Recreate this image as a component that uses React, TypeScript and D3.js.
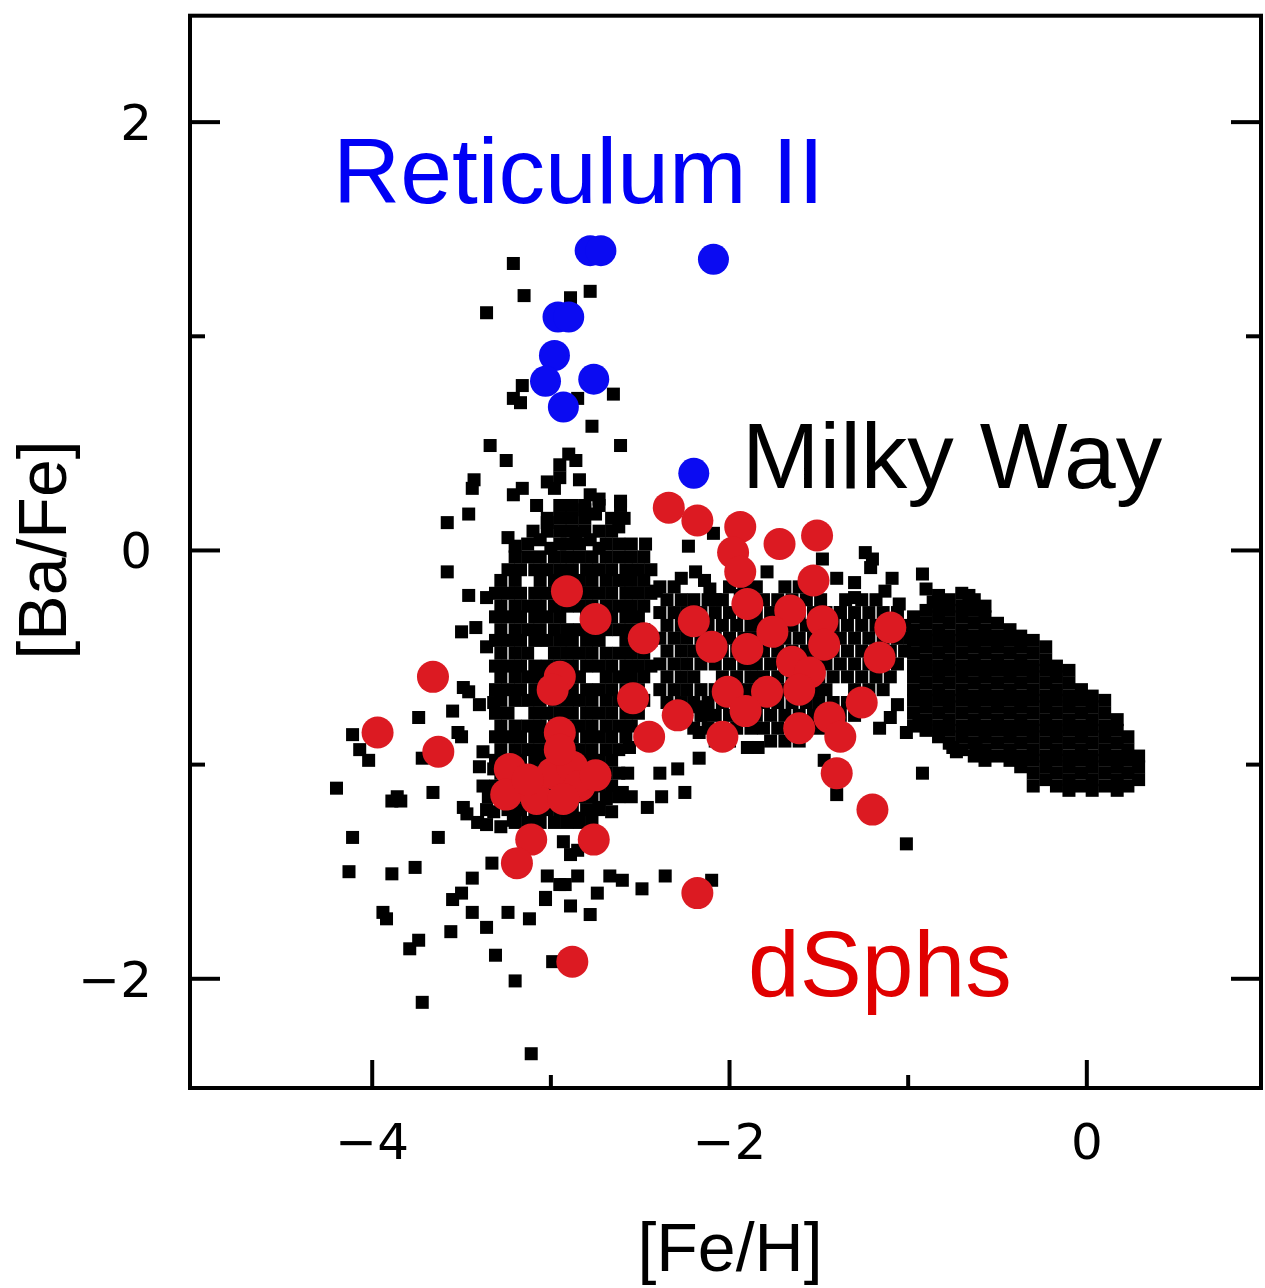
import React from 'react';
import * as d3 from 'd3';

const W = 1265;
const H = 1288;

const xDomain: [number, number] = [-5.02, 0.975];
const yDomain: [number, number] = [-2.51, 2.497];
const xTicksMajor = [-4, -2, 0];
const xTicksMinor = [-3, -1];
const yTicksMajor = [-2, 0, 2];
const yTicksMinor = [-1, 1];
const xTickLabels = ['\u22124', '\u22122', '0'];
const yTickLabels = ['\u22122', '0', '2'];

// Milky Way stars: scattered ones
const mwSparse: [number, number][] = [
  [-3.21,1.34],[-3.15,1.19],[-3.36,1.11],[-2.89,1.18],[-2.78,1.21],
  [-3.16,0.77],[-3.21,0.71],[-3.17,0.69],[-2.85,0.71],[-2.65,0.73],
  [-2.77,0.58],[-3.34,0.49],[-2.61,0.49],[-3.25,0.42],[-2.95,0.40],[-2.90,0.45],[-2.86,0.42],
  [-3.43,0.33],[-3.44,0.29],[-3.02,0.32],[-2.98,0.29],[-3.16,0.29],[-3.21,0.26],[-2.95,0.34],[-2.84,0.33],[-2.78,0.26],
  [-3.46,0.17],[-3.58,0.13],[-2.73,0.24],[-2.81,0.19],[-2.75,0.17],[-2.61,0.23],[-2.59,0.15],[-2.62,0.11],[-3.02,0.13],
  [-3.24,0.06],[-3.20,0.02],[-3.06,0.05],[-3.00,0.01],[-2.95,0.03],[-2.86,0.08],[-2.78,0.05],[-2.73,0.01],
  [-2.23,0.02],[-2.09,0.08],[-2.19,-0.10],[-2.14,-0.14],[-2.27,-0.13],[-2.41,-0.19],[-2.11,-0.18],[-2.08,-0.23],[-1.79,-0.10],[-1.94,-0.21],
  [-1.48,-0.04],[-1.24,-0.01],[-1.20,-0.04],[-1.21,-0.08],[-1.40,-0.13],[-1.30,-0.15],[-1.09,-0.13],[-0.92,-0.11],[-1.13,-0.19],
  [-1.05,-0.25],[-0.90,-0.18],[-0.83,-0.21],[-0.86,-0.24],[-0.66,-0.21],[-1.35,-0.23],[-1.30,-0.22],[-1.49,-0.23],[-1.38,-0.29],
  [-3.58,-0.10],[-3.46,-0.21],[-3.36,-0.22],[-3.50,-0.38],[-3.42,-0.36],[-3.36,-0.45],[-3.49,-0.64],[-3.46,-0.66],[-3.40,-0.72],
  [-3.32,-0.71],[-3.38,-0.94],[-3.40,-1.01],[-3.32,-1.02],
  [-4.11,-0.86],[-4.07,-0.93],[-4.02,-0.98],[-3.74,-0.78],[-3.55,-0.75],[-3.52,-0.85],[-3.50,-0.87],[-3.72,-0.97],[-3.66,-1.13],[-3.86,-1.15],
  [-4.20,-1.11],[-3.84,-1.17],[-3.89,-1.17],[-3.49,-1.20],[-3.47,-1.23],[-3.36,-1.21],[-3.32,-1.22],[-3.41,-1.27],[-3.36,-1.28],[-3.28,-1.29],[-3.21,-1.26],
  [-4.11,-1.34],[-3.63,-1.34],[-4.13,-1.50],[-3.89,-1.51],[-3.76,-1.48],[-3.33,-1.46],[-3.44,-1.53],[-3.50,-1.60],[-3.55,-1.63],[-3.02,-1.52],[-2.95,-1.56],
  [-3.94,-1.69],[-3.92,-1.72],[-3.44,-1.69],[-3.36,-1.76],[-3.24,-1.69],[-3.12,-1.72],[-3.03,-1.62],[-3.56,-1.78],[-3.74,-1.82],[-3.79,-1.86],
  [-3.31,-1.89],[-3.20,-2.01],[-3.72,-2.11],[-3.11,-2.35],
  [-2.93,-1.36],[-2.89,-1.42],[-2.85,-1.40],[-2.92,-1.56],[-2.85,-1.52],[-2.67,-1.52],[-2.60,-1.54],[-2.74,-1.60],[-2.49,-1.58],[-2.36,-1.52],
  [-2.10,-1.54],[-3.03,-1.63],[-2.89,-1.66],[-2.78,-1.70],[-2.99,-1.92],
  [-2.57,-1.04],[-2.39,-1.04],[-2.29,-1.02],[-2.17,-0.97],[-2.25,-1.13],[-2.38,-1.15],[-2.46,-1.20],[-2.60,-1.13],[-2.56,-0.92],
  [-2.69,-1.16],[-2.73,-1.20],[-2.85,-1.25],[-2.66,-1.22],[-1.90,-0.92],[-1.84,-0.92],[-2.17,-0.85],[-2.15,-0.77],[-2.18,-0.73],
  [-1.01,-1.37],[-0.92,-1.04],[-1.40,-1.14],[-1.47,-0.98],[-0.75,-0.92],[-0.73,-0.94],[-0.62,-0.93],
  [-1.16,-0.83],[-1.10,-0.78],[-1.01,-0.85],[-0.94,-0.80],[-1.06,-0.72],
];

// Milky Way stars: crowded metal-poor clump, rows of [Ba/Fe] with their [Fe/H]
const mwCoreRows: [number, number[]][] = [
  [0.21, [-3.08,-2.95,-2.88,-2.81,-2.73,-2.61]],
  [0.15, [-3.02,-2.95,-2.88,-2.81,-2.66]],
  [0.09, [-3.10,-3.02,-2.95,-2.88,-2.81,-2.73,-2.66]],
  [0.03, [-3.13,-2.91,-2.84,-2.69,-2.62,-2.55,-2.47]],
  [-0.03, [-3.20,-3.13,-3.06,-2.98,-2.91,-2.84,-2.77,-2.69,-2.62,-2.55,-2.48]],
  [-0.09, [-3.24,-3.17,-3.09,-3.02,-2.95,-2.88,-2.80,-2.73,-2.66,-2.58,-2.51,-2.44]],
  [-0.14, [-3.28,-3.20,-3.06,-2.98,-2.91,-2.84,-2.77,-2.69,-2.62,-2.55,-2.48]],
  [-0.20, [-3.31,-3.24,-3.17,-3.09,-3.02,-2.95,-2.88,-2.80,-2.73,-2.66,-2.58,-2.51,-2.44]],
  [-0.26, [-3.28,-3.20,-3.13,-3.06,-2.98,-2.91,-2.84,-2.77,-2.69,-2.62,-2.55,-2.48]],
  [-0.31, [-3.31,-3.24,-3.17,-3.09,-3.02,-2.95,-2.80,-2.73,-2.66,-2.58,-2.51]],
  [-0.37, [-3.28,-3.20,-3.13,-3.06,-2.98,-2.91,-2.84,-2.77,-2.69,-2.62,-2.55,-2.48]],
  [-0.42, [-3.31,-3.24,-3.17,-3.09,-3.02,-2.95,-2.88,-2.80,-2.73,-2.58,-2.51,-2.44]],
  [-0.48, [-3.28,-3.20,-3.13,-2.98,-2.91,-2.84,-2.77,-2.69,-2.62,-2.55,-2.48]],
  [-0.54, [-3.31,-3.24,-3.17,-3.09,-3.02,-2.95,-2.88,-2.80,-2.73,-2.66,-2.58,-2.51,-2.44]],
  [-0.59, [-3.28,-3.20,-3.13,-3.06,-2.98,-2.91,-2.84,-2.69,-2.62,-2.55,-2.48]],
  [-0.65, [-3.31,-3.24,-3.17,-3.09,-3.02,-2.95,-2.88,-2.80,-2.73,-2.66,-2.58,-2.51]],
  [-0.70, [-3.28,-3.20,-3.13,-3.06,-2.98,-2.91,-2.84,-2.77,-2.69,-2.62,-2.55,-2.48]],
  [-0.76, [-3.31,-3.24,-3.09,-3.02,-2.95,-2.88,-2.80,-2.73,-2.66,-2.58,-2.51]],
  [-0.82, [-3.28,-3.20,-3.13,-3.06,-2.98,-2.91,-2.84,-2.77,-2.69,-2.62,-2.55]],
  [-0.87, [-3.31,-3.24,-3.17,-3.09,-3.02,-2.88,-2.80,-2.73,-2.66,-2.58]],
  [-0.93, [-3.28,-3.20,-3.13,-3.06,-2.98,-2.91,-2.84,-2.77,-2.69,-2.62]],
  [-0.98, [-3.31,-3.24,-3.17,-3.09,-3.02,-2.95,-2.88,-2.80,-2.73,-2.66]],
  [-1.04, [-3.28,-3.20,-3.13,-3.06,-2.98,-2.91,-2.84,-2.77,-2.69,-2.62]],
  [-1.10, [-3.38,-3.31,-3.24,-3.17,-3.09,-3.02,-2.95,-2.88,-2.80,-2.73,-2.66]],
  [-1.15, [-3.35,-3.28,-3.20,-3.13,-3.06,-2.98,-2.91,-2.84,-2.77,-2.69,-2.62,-2.55]],
  [-1.21, [-3.24,-3.17,-3.09,-3.02,-2.95,-2.88,-2.80,-2.73]],
  [-1.27, [-3.20,-3.13,-3.06,-2.98,-2.91,-2.84,-2.77]],
  // intermediate metallicity band
  [-0.17, [-2.39,-2.31,-2.00,-1.92,-1.85,-1.69,-1.61]],
  [-0.23, [-2.35,-2.27,-2.20,-2.12,-2.04,-1.81,-1.73,-1.65,-1.57,-1.26,-1.18]],
  [-0.29, [-2.39,-2.31,-2.24,-2.16,-2.08,-2.00,-1.92,-1.85,-1.77,-1.69,-1.61,-1.53,-1.46,-1.38,-1.30,-1.22,-1.14,-1.06]],
  [-0.35, [-2.35,-2.27,-2.20,-2.12,-2.04,-1.96,-1.88,-1.81,-1.73,-1.65,-1.57,-1.42,-1.34,-1.26,-1.18,-1.10,-1.02]],
  [-0.41, [-2.39,-2.31,-2.24,-2.16,-2.08,-2.00,-1.92,-1.85,-1.77,-1.69,-1.61,-1.53,-1.46,-1.38,-1.30,-1.22,-1.14,-1.06,-0.99]],
  [-0.47, [-2.35,-2.27,-2.20,-2.12,-2.04,-1.96,-1.81,-1.73,-1.65,-1.57,-1.50,-1.42,-1.34,-1.26,-1.18,-1.10,-1.02]],
  [-0.53, [-2.39,-2.31,-2.24,-2.16,-2.08,-2.00,-1.92,-1.85,-1.77,-1.69,-1.61,-1.53,-1.46,-1.38,-1.30,-1.22,-1.14,-1.06]],
  [-0.59, [-2.35,-2.27,-2.20,-2.04,-1.96,-1.88,-1.81,-1.73,-1.65,-1.57,-1.50,-1.42,-1.34,-1.26,-1.18,-1.10]],
  [-0.65, [-2.39,-2.31,-2.24,-2.16,-2.08,-2.00,-1.92,-1.85,-1.77,-1.69,-1.61,-1.53,-1.46,-1.30,-1.22,-1.14]],
  [-0.71, [-2.35,-2.27,-2.20,-2.12,-2.04,-1.96,-1.88,-1.81,-1.73,-1.65,-1.57,-1.50,-1.42,-1.34,-1.26]],
  [-0.77, [-2.31,-2.24,-2.16,-2.08,-2.00,-1.92,-1.85,-1.77,-1.69,-1.61,-1.53,-1.46,-1.38,-1.30]],
  [-0.83, [-2.20,-2.12,-2.04,-1.96,-1.88,-1.81,-1.73,-1.65,-1.57,-1.50,-1.42]],
  [-0.89, [-2.08,-2.00,-1.77,-1.69,-1.61]],
];

// Milky Way stars: crowded metal-rich sequence, columns of [Fe/H] with their [Ba/Fe]
const mwRichCols: [number, number[]][] = [
  [-0.97, [-0.31,-0.37,-0.42,-0.48,-0.54,-0.59,-0.65,-0.70,-0.76,-0.82]],
  [-0.90, [-0.28,-0.34,-0.40,-0.45,-0.51,-0.56,-0.62,-0.68,-0.73,-0.79,-0.84]],
  [-0.83, [-0.26,-0.31,-0.37,-0.42,-0.48,-0.54,-0.59,-0.65,-0.70,-0.76,-0.82,-0.87]],
  [-0.77, [-0.23,-0.28,-0.34,-0.40,-0.45,-0.51,-0.56,-0.62,-0.68,-0.73,-0.79,-0.84,-0.90]],
  [-0.70, [-0.20,-0.26,-0.31,-0.37,-0.42,-0.48,-0.54,-0.59,-0.65,-0.70,-0.76,-0.82,-0.87,-0.93]],
  [-0.63, [-0.23,-0.28,-0.34,-0.40,-0.45,-0.51,-0.56,-0.62,-0.68,-0.73,-0.79,-0.84,-0.90,-0.96]],
  [-0.57, [-0.26,-0.31,-0.37,-0.42,-0.48,-0.54,-0.59,-0.65,-0.70,-0.76,-0.82,-0.87,-0.93,-0.98]],
  [-0.50, [-0.34,-0.40,-0.45,-0.51,-0.56,-0.62,-0.68,-0.73,-0.79,-0.84,-0.90,-0.96]],
  [-0.43, [-0.37,-0.42,-0.48,-0.54,-0.59,-0.65,-0.70,-0.76,-0.82,-0.87,-0.93,-0.98]],
  [-0.37, [-0.40,-0.45,-0.51,-0.56,-0.62,-0.68,-0.73,-0.79,-0.84,-0.90,-0.96,-1.01]],
  [-0.30, [-0.42,-0.48,-0.54,-0.59,-0.65,-0.70,-0.76,-0.82,-0.87,-0.93,-0.98,-1.04,-1.10]],
  [-0.23, [-0.45,-0.51,-0.56,-0.62,-0.68,-0.73,-0.79,-0.84,-0.90,-0.96,-1.01,-1.07]],
  [-0.17, [-0.54,-0.59,-0.65,-0.70,-0.76,-0.82,-0.87,-0.93,-0.98,-1.04,-1.10]],
  [-0.10, [-0.56,-0.62,-0.68,-0.73,-0.79,-0.84,-0.90,-0.96,-1.01,-1.07,-1.12]],
  [-0.03, [-0.65,-0.70,-0.76,-0.82,-0.87,-0.93,-0.98,-1.04,-1.10]],
  [0.03, [-0.68,-0.73,-0.79,-0.84,-0.90,-0.96,-1.01,-1.07,-1.12]],
  [0.10, [-0.70,-0.76,-0.82,-0.87,-0.93,-0.98,-1.04,-1.10]],
  [0.17, [-0.79,-0.84,-0.90,-0.96,-1.01,-1.07,-1.12]],
  [0.23, [-0.87,-0.93,-0.98,-1.04,-1.10]],
  [0.29, [-0.96,-1.01,-1.07]],
];

// dwarf spheroidal galaxies
const dsphFeH = [
  -2.34,-2.18,-1.94,-1.98,-1.94,-1.72,-1.51,-1.53,-1.90,-1.66,
  -2.91,-2.75,-2.48,-2.20,-2.10,-1.90,-1.76,-1.48,-1.47,-1.10,
  -1.16,-1.65,-1.55,-1.79,-2.01,-1.91,-2.29,-2.54,-2.45,-2.04,
  -1.61,-1.44,-1.38,-1.26,-1.40,-1.20,-3.66,-3.97,-3.63,-2.95,
  -2.99,-2.95,-3.23,-3.25,-3.08,-2.99,-2.88,-2.84,-3.11,-3.19,
  -2.76,-2.18,-2.88,-1.61,-3.13,-2.75,-2.93,-2.95,
];
const dsphBaFe = [
  0.20,0.14,0.11,-0.01,-0.10,0.03,0.07,-0.14,-0.25,-0.28,
  -0.19,-0.32,-0.41,-0.33,-0.45,-0.46,-0.38,-0.33,-0.44,-0.36,
  -0.50,-0.52,-0.57,-0.66,-0.66,-0.75,-0.77,-0.69,-0.87,-0.87,
  -0.83,-0.78,-0.87,-0.71,-1.04,-1.21,-0.59,-0.85,-0.94,-0.59,
  -0.65,-0.85,-1.02,-1.14,-1.16,-1.04,-1.01,-1.10,-1.35,-1.46,
  -1.35,-1.60,-1.92,-0.65,-1.07,-1.05,-1.16,-0.93,
];

// Reticulum II
const retFeH = [-2.78,-2.72,-2.09,-2.96,-2.90,-2.98,-3.03,-2.76,-2.93,-2.20];
const retBaFe = [1.40,1.40,1.36,1.09,1.09,0.91,0.79,0.80,0.67,0.36];

export default function App() {
  const x = d3.scaleLinear().domain(xDomain).range([190, 1261]);
  const y = d3.scaleLinear().domain(yDomain).range([1088, 15.7]);

  const black: [number, number][] = [
    ...mwSparse,
    ...mwCoreRows.flatMap(([b, fs]) => fs.map((f) => [f, b] as [number, number])),
    ...mwRichCols.flatMap(([f, bs]) => bs.map((b) => [f, b] as [number, number])),
  ];

  const x0 = x.range()[0];
  const x1 = x.range()[1];
  const y0 = y.range()[0];
  const y1 = y.range()[1];
  const tickFont = "'DejaVu Sans', sans-serif";
  const textFont = "'Liberation Sans', Arial, sans-serif";
  const sq = 13;

  return (
    <svg
      width={W}
      height={H}
      viewBox={`0 0 ${W} ${H}`}
      style={{ position: 'absolute', left: 0, top: 0, background: '#fff' }}
    >
      <rect x={0} y={0} width={W} height={H} fill="#fff" />
      <g>
        {black.map(([f, b], i) => (
          <rect key={i} x={x(f) - sq / 2} y={y(b) - sq / 2} width={sq} height={sq} fill="#000" />
        ))}
      </g>
      <g>
        {dsphFeH.map((f, i) => (
          <circle key={i} cx={x(f)} cy={y(dsphBaFe[i])} r={16} fill="#dc1a22" />
        ))}
      </g>
      <g>
        {retFeH.map((f, i) => (
          <circle key={i} cx={x(f)} cy={y(retBaFe[i])} r={15.5} fill="#0b0bf2" />
        ))}
      </g>
      {/* frame */}
      <rect x={x0} y={y1} width={x1 - x0} height={y0 - y1} fill="none" stroke="#000" strokeWidth={4} />
      {/* ticks */}
      <g stroke="#000" strokeWidth={4}>
        {xTicksMajor.map((t) => (
          <line key={'xM' + t} x1={x(t)} x2={x(t)} y1={y0} y2={y0 - 28} />
        ))}
        {xTicksMinor.map((t) => (
          <line key={'xm' + t} x1={x(t)} x2={x(t)} y1={y0} y2={y0 - 13} />
        ))}
        {yTicksMajor.map((t) => (
          <g key={'yM' + t}>
            <line x1={x0} x2={x0 + 30} y1={y(t)} y2={y(t)} />
            <line x1={x1} x2={x1 - 30} y1={y(t)} y2={y(t)} />
          </g>
        ))}
        {yTicksMinor.map((t) => (
          <g key={'ym' + t}>
            <line x1={x0} x2={x0 + 15} y1={y(t)} y2={y(t)} />
            <line x1={x1} x2={x1 - 15} y1={y(t)} y2={y(t)} />
          </g>
        ))}
      </g>
      {/* tick labels */}
      <g fontFamily={tickFont} fontSize={50} fill="#000">
        {xTicksMajor.map((t, i) => (
          <text key={'xl' + t} x={x(t)} y={1159} textAnchor="middle">
            {xTickLabels[i]}
          </text>
        ))}
        {yTicksMajor.map((t, i) => (
          <text key={'yl' + t} x={152} y={y(t) + 18} textAnchor="end">
            {yTickLabels[i]}
          </text>
        ))}
      </g>
      {/* axis titles */}
      <text x={730} y={1271} textAnchor="middle" fontFamily={textFont} fontSize={68} fill="#000">
        [Fe/H]
      </text>
      <text
        transform={`translate(66, 550) rotate(-90)`}
        textAnchor="middle"
        fontFamily={textFont}
        fontSize={68}
        fill="#000"
      >
        [Ba/Fe]
      </text>
      {/* annotations */}
      <text x={333} y={203} fontFamily={textFont} fontSize={93} fill="#0000f5">
        Reticulum II
      </text>
      <text x={742} y={488} fontFamily={textFont} fontSize={93} fill="#000">
        Milky Way
      </text>
      <text x={748} y={996} fontFamily={textFont} fontSize={93} fill="#e00000">
        dSphs
      </text>
    </svg>
  );
}
